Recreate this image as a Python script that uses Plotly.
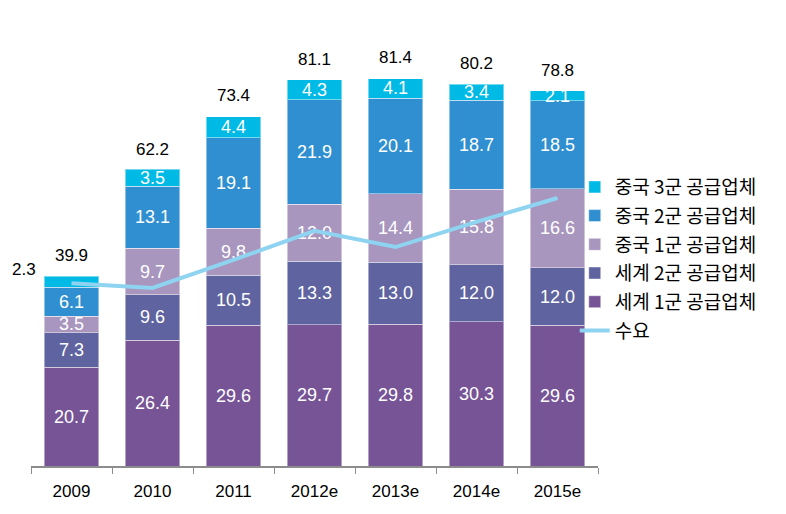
import plotly.graph_objects as go

years = ["2009", "2010", "2011", "2012e", "2013e", "2014e", "2015e"]
world1 = [20.7, 26.4, 29.6, 29.7, 29.8, 30.3, 29.6]
world2 = [7.3, 9.6, 10.5, 13.3, 13.0, 12.0, 12.0]
china1 = [3.5, 9.7, 9.8, 12.0, 14.4, 15.8, 16.6]
china2 = [6.1, 13.1, 19.1, 21.9, 20.1, 18.7, 18.5]
china3 = [2.3, 3.5, 4.4, 4.3, 4.1, 3.4, 2.1]
totals = [39.9, 62.2, 73.4, 81.1, 81.4, 80.2, 78.8]
demand = [38.4, 37.4, 43.3, 49.4, 46.0, 51.3, 56.3]

series = [
    ("세계 1군 공급업체", world1, "#765496", 5),
    ("세계 2군 공급업체", world2, "#5F64A0", 4),
    ("중국 1군 공급업체", china1, "#A896BE", 3),
    ("중국 2군 공급업체", china2, "#2F8FD1", 2),
    ("중국 3군 공급업체", china3, "#00BAE6", 1),
]

FONT = "Liberation Sans, Arial, Noto Sans CJK KR, sans-serif"
LFONT = "Noto Sans CJK KR, Liberation Sans, sans-serif"

fig = go.Figure()
for name, vals, color, rank in series:
    texts = [f"{v:.1f}" for v in vals]
    if vals is china3:
        texts[0] = ""
    fig.add_trace(go.Bar(
        x=years, y=vals, name=name, legendrank=rank, legendgroup=name,
        marker=dict(color=color, line=dict(color="rgba(255,255,255,0.45)", width=1)),
        text=texts, textposition="inside", insidetextanchor="middle",
        constraintext="none", textangle=0,
        textfont=dict(color="white", size=18, family=FONT),
        hoverinfo="skip",
    ))

fig.add_trace(go.Scatter(
    x=years, y=demand, name="수요", mode="lines", legendrank=6, legendgroup="demand",
    line=dict(color="#8ED3F0", width=4),
))

fig.add_trace(go.Scatter(
    x=years, y=totals, mode="markers+text", showlegend=False,
    marker=dict(size=16, color="rgba(0,0,0,0)"),
    text=[f"{t:.1f}" for t in totals], textposition="top center",
    textfont=dict(color="black", size=17, family=FONT),
    hoverinfo="skip",
))

# small segment label for 2009 China tier 3, placed to the left of the bar
base2009 = world1[0] + world2[0] + china1[0] + china2[0]
fig.add_annotation(
    x=0, y=base2009 + china3[0] / 2, text=f"{china3[0]:.1f}",
    showarrow=False, xanchor="right", xshift=-34, yshift=12,
    font=dict(color="black", size=17, family=FONT),
)

fig.update_layout(
    barmode="stack", bargap=0.333,
    width=786, height=514,
    margin=dict(l=23, r=196, t=12, b=56),
    plot_bgcolor="white", paper_bgcolor="white",
    font=dict(family=FONT, size=16, color="black"),
    legend=dict(x=0.959, y=0.668, xanchor="left", yanchor="top",
                traceorder="grouped",
                font=dict(size=19, family=LFONT), tracegroupgap=1,
                itemwidth=30, bgcolor="rgba(0,0,0,0)"),
    xaxis=dict(type="category", range=[-0.5, len(years) - 0.5],
               showline=True, linecolor="#8C8C8C", linewidth=1.5,
               ticks="outside", tickson="boundaries", ticklen=6,
               ticklabelstandoff=9,
               tickcolor="#8C8C8C", tickfont=dict(size=17, family=FONT)),
    yaxis=dict(range=[0, 93.7], visible=False, showgrid=False),
)

fig.write_html("out.html")
